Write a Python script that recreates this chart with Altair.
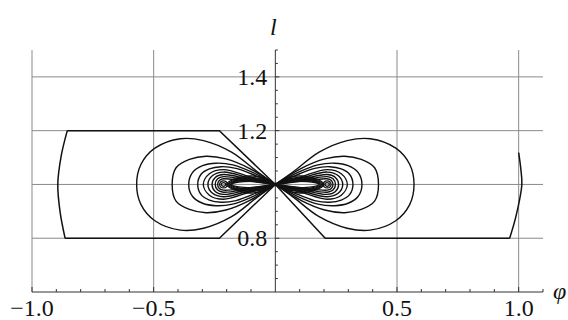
import altair as alt
import pandas as pd

# plot ranges
PHI_MIN, PHI_MAX = -1.0, 1.1
L_MIN, L_MAX = 0.6, 1.5

# grid and tick positions
grid_phi = [-1.0, -0.5, 0.5, 1.0]
grid_l = [0.8, 1.0, 1.2, 1.4]
x_major_ticks = [-1.0, -0.5, 0.5, 1.0]
x_minor_ticks = [-0.9, -0.8, -0.7, -0.6, -0.4, -0.3, -0.2, -0.1,
                 0.1, 0.2, 0.3, 0.4, 0.6, 0.7, 0.8, 0.9, 1.1]
y_major_ticks = [0.8, 1.0, 1.2, 1.4]
y_minor_ticks = [0.65, 0.7, 0.75, 0.85, 0.9, 0.95, 1.05, 1.1, 1.15,
                 1.25, 1.3, 1.35, 1.45, 1.5]
x_label_values = [-1.0, -0.5, 0.5, 1.0]
x_label_text = ["−1.0", "−0.5", "0.5", "1.0"]
y_label_values = [0.8, 1.2, 1.4]
y_label_text = ["0.8", "1.2", "1.4"]

# Upper halves of the left-lobe contours, from the saddle at (0, 1) out to the
# far end of each loop; each loop is symmetric about l = 1 and the right lobe
# mirrors the left one about phi = 0.
contour_a = [(0.0, 1.0), (-0.075, 1.048), (-0.18, 1.12), (-0.295, 1.163),
             (-0.39, 1.170), (-0.495, 1.135), (-0.552, 1.075), (-0.570, 1.0)]
contour_b = [(0.0, 1.0), (-0.107, 1.060), (-0.203, 1.095), (-0.285, 1.105),
             (-0.353, 1.093), (-0.408, 1.062), (-0.424, 1.0)]
contour_c = [(0.0, 1.0), (-0.093, 1.045), (-0.175, 1.073), (-0.244, 1.079),
             (-0.299, 1.070), (-0.340, 1.045), (-0.356, 1.0)]
contour_d = [(0.0, 1.0), (-0.079, 1.032), (-0.162, 1.060), (-0.223, 1.066),
             (-0.271, 1.058), (-0.305, 1.038), (-0.319, 1.0)]
# loops that wrap the rings round the extremum and run into the saddle
contour_e = [(0.0, 1.0), (-0.107, 1.029), (-0.213, 1.055), (-0.271, 1.040),
             (-0.296, 1.0)]
contour_f = [(0.0, 1.0), (-0.107, 1.024), (-0.213, 1.046), (-0.258, 1.033),
             (-0.277, 1.0)]
contour_g = [(0.0, 1.0), (-0.107, 1.019), (-0.213, 1.037), (-0.246, 1.027),
             (-0.260, 1.0)]
contour_h = [(0.0, 1.0), (-0.107, 1.015), (-0.213, 1.029), (-0.237, 1.021),
             (-0.247, 1.0)]
contour_i = [(0.0, 1.0), (-0.107, 1.012), (-0.213, 1.021), (-0.230, 1.015),
             (-0.237, 1.0)]
# narrow loops round the slit between the extremum and the saddle
contour_s1 = [(0.0, 1.0), (-0.05, 1.024), (-0.10, 1.032), (-0.15, 1.026),
              (-0.20, 1.0)]
contour_s2 = [(0.0, 1.0), (-0.05, 1.019), (-0.10, 1.026), (-0.15, 1.021),
              (-0.195, 1.0)]
contour_s3 = [(0.0, 1.0), (-0.05, 1.016), (-0.10, 1.021), (-0.15, 1.017),
              (-0.19, 1.0)]
contour_s4 = [(0.0, 1.0), (-0.05, 1.013), (-0.10, 1.017), (-0.15, 1.013),
              (-0.185, 1.0)]
contour_s5 = [(0.0, 1.0), (-0.05, 1.009), (-0.10, 1.012), (-0.15, 1.009),
              (-0.18, 1.0)]
open_contours = {"a": contour_a, "b": contour_b, "c": contour_c, "d": contour_d,
                 "e": contour_e, "f": contour_f, "g": contour_g, "h": contour_h,
                 "i": contour_i, "s1": contour_s1, "s2": contour_s2,
                 "s3": contour_s3, "s4": contour_s4, "s5": contour_s5}

# small closed rings round the extremum of the left lobe
ring_1 = [(-0.229, 1.0), (-0.224, 1.010), (-0.213, 1.013), (-0.202, 1.010),
          (-0.197, 1.0), (-0.202, 0.990), (-0.213, 0.987), (-0.224, 0.990)]
ring_2 = [(-0.222, 1.0), (-0.219, 1.005), (-0.213, 1.007), (-0.207, 1.005),
          (-0.204, 1.0), (-0.207, 0.995), (-0.213, 0.993), (-0.219, 0.995)]
closed_rings = {"r1": ring_1, "r2": ring_2}

# edges of the region where the function is drawn
edge_left = [(-0.855, 1.2), (-0.23, 1.2), (0.0, 1.0), (-0.23, 0.8), (-0.864, 0.8)]
edge_right = [(0.0, 1.0), (0.205, 0.8), (0.963, 0.8)]
arc_left = [(-0.855, 1.2), (-0.880, 1.106), (-0.894, 1.0), (-0.884, 0.894),
            (-0.864, 0.8)]
arc_right = [(0.963, 0.8), (0.989, 0.882), (1.013, 1.0), (1.009, 1.056),
             (1.0, 1.118)]


def loop_rows(name, upper, side):
    pts = list(upper) + [(p, 2.0 - l) for p, l in reversed(upper[:-1])]
    return [{"c": f"{name}{side}", "i": k, "phi": side * p, "l": l}
            for k, (p, l) in enumerate(pts)]


def ring_rows(name, pts, side):
    return [{"c": f"{name}{side}", "i": k, "phi": side * p, "l": l}
            for k, (p, l) in enumerate(pts)]


def path_rows(name, pts):
    return [{"c": name, "i": k, "phi": p, "l": l} for k, (p, l) in enumerate(pts)]


loops = []
for nm, up in open_contours.items():
    loops += loop_rows(nm, up, 1) + loop_rows(nm, up, -1)
rings = []
for nm, pts in closed_rings.items():
    rings += ring_rows(nm, pts, 1) + ring_rows(nm, pts, -1)
edges = path_rows("el", edge_left) + path_rows("er", edge_right)
arcs = path_rows("al", arc_left) + path_rows("ar", arc_right)

xs = alt.Scale(domain=[PHI_MIN, PHI_MAX], nice=False, zero=False)
ys = alt.Scale(domain=[L_MIN, L_MAX], nice=False, zero=False)


def X(f):
    return alt.X(f, type="quantitative", scale=xs, axis=None)


def Y(f):
    return alt.Y(f, type="quantitative", scale=ys, axis=None)


GRID = "#8a8a8a"
AXIS = "#333333"
INK = "#111111"
FONT = "Liberation Serif"

vgrid = alt.Chart(pd.DataFrame({"phi": grid_phi})).mark_rule(
    color=GRID, strokeWidth=1).encode(x=X("phi"))
hgrid = alt.Chart(pd.DataFrame({"l": grid_l})).mark_rule(
    color=GRID, strokeWidth=1).encode(y=Y("l"))

y_axis = alt.Chart(pd.DataFrame({"phi": [0.0]})).mark_rule(
    color=AXIS, strokeWidth=1).encode(x=X("phi"))
x_axis = alt.Chart(pd.DataFrame({"l": [L_MIN]})).mark_rule(
    color=AXIS, strokeWidth=1).encode(y=Y("l"))

xt_major = alt.Chart(pd.DataFrame({"phi": x_major_ticks, "l": L_MIN})).mark_rule(
    color=AXIS, strokeWidth=1, y2Offset=-5).encode(x=X("phi"), y=Y("l"), y2="l")
xt_minor = alt.Chart(pd.DataFrame({"phi": x_minor_ticks, "l": L_MIN})).mark_rule(
    color=AXIS, strokeWidth=1, y2Offset=-3).encode(x=X("phi"), y=Y("l"), y2="l")
yt_major = alt.Chart(pd.DataFrame({"l": y_major_ticks, "phi": 0.0})).mark_rule(
    color=AXIS, strokeWidth=1, x2Offset=4).encode(y=Y("l"), x=X("phi"), x2="phi")
yt_minor = alt.Chart(pd.DataFrame({"l": y_minor_ticks, "phi": 0.0})).mark_rule(
    color=AXIS, strokeWidth=1, x2Offset=2.5).encode(y=Y("l"), x=X("phi"), x2="phi")

x_labels = alt.Chart(pd.DataFrame({"phi": x_label_values, "l": L_MIN,
                                   "t": x_label_text})).mark_text(
    font=FONT, fontSize=24, color=INK, align="center",
    baseline="alphabetic", dy=24).encode(x=X("phi"), y=Y("l"), text="t:N")
y_labels = alt.Chart(pd.DataFrame({"l": y_label_values, "phi": 0.0,
                                   "t": y_label_text})).mark_text(
    font=FONT, fontSize=24, color=INK, align="right",
    baseline="alphabetic", dx=-8, dy=8).encode(x=X("phi"), y=Y("l"), text="t:N")

l_title = alt.Chart(pd.DataFrame({"phi": [0.0], "l": [L_MAX], "t": ["l"]})).mark_text(
    font=FONT, fontSize=24, fontStyle="italic", color=INK, align="center",
    baseline="alphabetic", dx=-2, dy=-15).encode(x=X("phi"), y=Y("l"), text="t:N")
phi_title = alt.Chart(pd.DataFrame({"phi": [PHI_MAX], "l": [L_MIN], "t": ["φ"]})).mark_text(
    font=FONT, fontSize=24, fontStyle="italic", color=INK, align="left",
    baseline="alphabetic", dx=10, dy=7).encode(x=X("phi"), y=Y("l"), text="t:N")

edge_lines = alt.Chart(pd.DataFrame(edges)).mark_line(
    color=INK, strokeWidth=1.5).encode(
    x=X("phi"), y=Y("l"), detail="c:N", order="i:Q")
arc_lines = alt.Chart(pd.DataFrame(arcs)).mark_line(
    color=INK, strokeWidth=1.5, interpolate="catmull-rom").encode(
    x=X("phi"), y=Y("l"), detail="c:N", order="i:Q")
loop_lines = alt.Chart(pd.DataFrame(loops)).mark_line(
    color=INK, strokeWidth=1.4, interpolate="catmull-rom").encode(
    x=X("phi"), y=Y("l"), detail="c:N", order="i:Q")
ring_lines = alt.Chart(pd.DataFrame(rings)).mark_line(
    color=INK, strokeWidth=1.3, interpolate="cardinal-closed").encode(
    x=X("phi"), y=Y("l"), detail="c:N", order="i:Q")

chart = alt.layer(
    vgrid, hgrid, y_axis, x_axis, xt_major, xt_minor, yt_major, yt_minor,
    edge_lines, arc_lines, loop_lines, ring_lines,
    x_labels, y_labels, l_title, phi_title,
).properties(
    width=511, height=242,
    autosize=alt.AutoSizeParams(type="none"),
    padding={"left": 32, "top": 50, "right": 25, "bottom": 28},
    background="white",
).configure_view(stroke=None)

chart.save("out.html", embed_options={"renderer": "svg", "actions": False})
